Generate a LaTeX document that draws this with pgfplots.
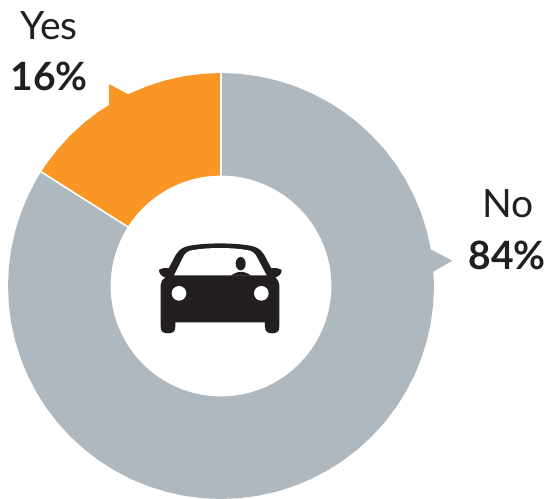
\documentclass[border=0pt]{standalone}
\usepackage{fontspec}
\setmainfont{Lato}
\usepackage{pgfplots}
\pgfplotsset{compat=1.18}
\definecolor{ringgrey}{HTML}{AFB8BF}
\definecolor{ringorange}{HTML}{F99625}
\definecolor{ink}{HTML}{231F20}
\begin{document}
\begin{tikzpicture}
\useasboundingbox (0,0) rectangle (550pt,499pt);
\begin{axis}[
  scale only axis, width=550pt, height=499pt,
  xmin=-221, xmax=329, ymin=-213, ymax=286,
  hide axis, clip=false,
]
% No: 84% of the ring, 302.4 degrees
\addplot[fill=ringgrey, draw=none, data cs=polar] coordinates {
 (147.6,213)(150,213)(155,213)(160,213)(165,213)(170,213)(175,213)(180,213)(185,213)(190,213)
 (195,213)(200,213)(205,213)(210,213)(215,213)(220,213)(225,213)(230,213)(235,213)(240,213)
 (245,213)(250,213)(255,213)(260,213)(265,213)(270,213)(275,213)(280,213)(285,213)(290,213)
 (295,213)(300,213)(305,213)(310,213)(315,213)(320,213)(325,213)(330,213)(335,213)(340,213)
 (345,213)(350,213)(355,213)(360,213)(365,213)(370,213)(375,213)(380,213)(385,213)(390,213)
 (395,213)(400,213)(405,213)(410,213)(415,213)(420,213)(425,213)(430,213)(435,213)(440,213)
 (445,213)(450,213)
 (450,110.5)(445,110.5)(440,110.5)(435,110.5)(430,110.5)(425,110.5)(420,110.5)(415,110.5)
 (410,110.5)(405,110.5)(400,110.5)(395,110.5)(390,110.5)(385,110.5)(380,110.5)(375,110.5)
 (370,110.5)(365,110.5)(360,110.5)(355,110.5)(350,110.5)(345,110.5)(340,110.5)(335,110.5)
 (330,110.5)(325,110.5)(320,110.5)(315,110.5)(310,110.5)(305,110.5)(300,110.5)(295,110.5)
 (290,110.5)(285,110.5)(280,110.5)(275,110.5)(270,110.5)(265,110.5)(260,110.5)(255,110.5)
 (250,110.5)(245,110.5)(240,110.5)(235,110.5)(230,110.5)(225,110.5)(220,110.5)(215,110.5)
 (210,110.5)(205,110.5)(200,110.5)(195,110.5)(190,110.5)(185,110.5)(180,110.5)(175,110.5)
 (170,110.5)(165,110.5)(160,110.5)(155,110.5)(150,110.5)(147.6,110.5)
};
% Yes: 16% of the ring, 57.6 degrees
\addplot[fill=ringorange, draw=none, data cs=polar] coordinates {
 (90,213)(95,213)(100,213)(105,213)(110,213)(115,213)(120,213)(125,213)(130,213)(135,213)
 (140,213)(145,213)(147.6,213)
 (147.6,110.5)(145,110.5)(140,110.5)(135,110.5)(130,110.5)(125,110.5)(120,110.5)(115,110.5)
 (110,110.5)(105,110.5)(100,110.5)(95,110.5)(90,110.5)
};
% Thin white gaps between the two segments
\addplot[white, line width=1.6pt, data cs=polar] coordinates {(90,109)(90,215)};
\addplot[white, line width=1.6pt, data cs=polar] coordinates {(147.6,109)(147.6,215)};
% Pointers towards the labels
\addplot[fill=ringorange, draw=none] coordinates {(-112,202)(-92.7,191.7)(-92,170)(-112,170)};
\addplot[fill=ringgrey, draw=none] coordinates {(205,37)(209,37)(231.3,25.3)(212.3,14.3)(205,14.3)};
\end{axis}
% Labels
\node[anchor=base, font=\fontsize{39}{39}\selectfont, text=ink] at (49pt,459pt) {Yes};
\node[anchor=base, font=\fontsize{39}{39}\selectfont\bfseries, text=ink] at (49pt,408pt) {16\%};
\node[anchor=base, font=\fontsize{39}{39}\selectfont, text=ink] at (508pt,281pt) {No};
\node[anchor=base, font=\fontsize{39}{39}\selectfont\bfseries, text=ink] at (507pt,229pt) {84\%};
% Car icon
\begin{scope}[shift={(140pt,269pt)}, x=0.33333pt, y=-0.33333pt]
  \fill[ink] (62,165) -- (62,290) .. controls (62,305) and (70,310) .. (84,310)
    .. controls (98,310) and (106,305) .. (106,290) -- (106,277) -- (375,277) -- (375,290)
    .. controls (375,305) and (383,310) .. (397,310) .. controls (410,310) and (418,305) .. (418,290)
    -- (418,165) .. controls (418,155) and (412,148) .. (406,142)
    .. controls (418,140) and (425,130) .. (425,120) .. controls (415,114) and (403,113) .. (394,115)
    -- (373,75) .. controls (362,58) and (350,50) .. (330,47)
    .. controls (280,38) and (200,38) .. (150,47)
    .. controls (130,50) and (118,58) .. (107,75) -- (86,115)
    .. controls (77,113) and (65,114) .. (57,120) .. controls (57,130) and (64,140) .. (76,142)
    .. controls (68,148) and (62,155) .. (62,165) -- cycle;
  \fill[white] (102,136) -- (131,78) .. controls (138,66) and (146,62) .. (160,60)
    .. controls (210,52) and (270,52) .. (320,60) .. controls (334,62) and (342,66) .. (349,78)
    -- (380,136) -- cycle;
  \fill[ink] (302,101) ellipse [x radius=15, y radius=20];
  \fill[ink] (272,137) .. controls (282,130) and (290,128) .. (296,126) -- (310,126)
    .. controls (318,128) and (324,130) .. (333,137) -- cycle;
  \fill[white] (117,190) circle [radius=22];
  \fill[white] (364,190) circle [radius=22];
\end{scope}
\end{tikzpicture}
\end{document}
